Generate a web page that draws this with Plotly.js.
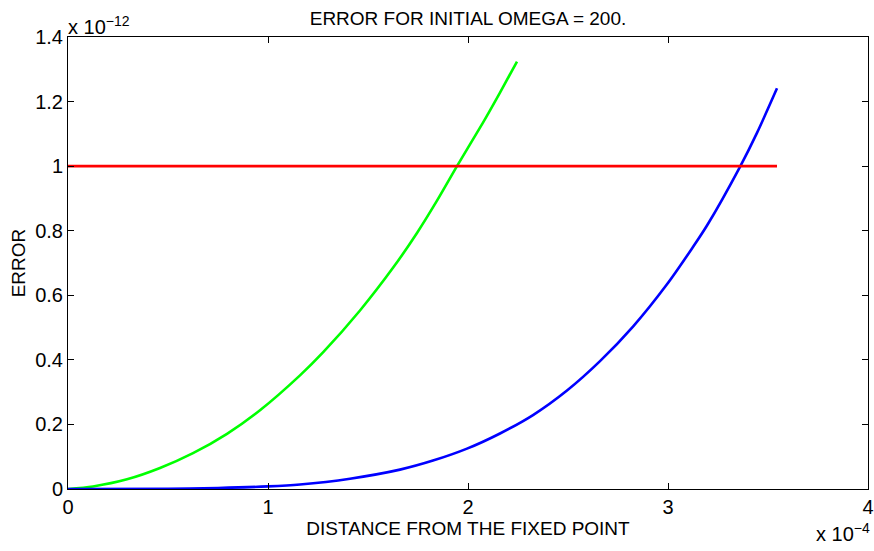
<!DOCTYPE html>
<html>
<head>
<meta charset="utf-8">
<script src="https://cdn.plot.ly/plotly-3.0.1.min.js"></script>
<style>html,body{margin:0;padding:0;background:#fff}#chart{width:874px;height:551px}</style>
</head>
<body>
<div id="chart"></div>
<script>
// distance in units of 1e-4, error in units of 1e-12
const distGreen = [0, 0.125, 0.295, 0.46, 0.625, 0.795, 0.96, 1.16, 1.275, 1.46, 1.625, 1.745, 1.845, 1.945, 2.075, 2.16, 2.245];
const errGreen  = [0, 0.008, 0.03, 0.065, 0.111, 0.171, 0.244, 0.352, 0.423, 0.553, 0.685, 0.793, 0.893, 1.0, 1.135, 1.228, 1.324];

const distBlue = [0, 0.5, 0.75, 1.0, 1.16, 1.41, 1.66, 1.825, 1.995, 2.16, 2.325, 2.495, 2.66, 2.825, 2.995, 3.12, 3.195, 3.36, 3.445, 3.545];
const errBlue  = [0, 0.001, 0.003, 0.008, 0.014, 0.032, 0.06, 0.088, 0.125, 0.172, 0.229, 0.305, 0.396, 0.503, 0.634, 0.745, 0.816, 0.998, 1.103, 1.241];

const distRed = [0, 3.545];
const errRed  = [1, 1];

const xTicks = [0, 1, 2, 3, 4];
const yTicks = [0, 0.2, 0.4, 0.6, 0.8, 1, 1.2, 1.4];

const FONT = 'Liberation Sans, Arial, Helvetica, sans-serif';

const traces = [
  {x: distGreen, y: errGreen, mode: 'lines', line: {color: '#00ff00', width: 2.6, shape: 'spline', smoothing: 0.8}, hoverinfo: 'skip'},
  {x: distBlue, y: errBlue, mode: 'lines', line: {color: '#0000ff', width: 2.6, shape: 'spline', smoothing: 0.8}, hoverinfo: 'skip'},
  {x: distRed, y: errRed, mode: 'lines', line: {color: '#ff0000', width: 2.6}, hoverinfo: 'skip'}
];

const axisCommon = {
  showline: true, mirror: 'ticks', linecolor: '#000', linewidth: 1,
  ticks: 'inside', ticklen: 6, tickcolor: '#000', tickwidth: 1,
  showgrid: false, zeroline: false, fixedrange: true,
  tickfont: {family: FONT, size: 20, color: '#000'}
};

const layout = {
  width: 874, height: 551,
  margin: {l: 68, r: 6, t: 37, b: 62},
  paper_bgcolor: '#fff', plot_bgcolor: '#fff',
  showlegend: false,
  font: {family: FONT, color: '#000'},
  title: {text: 'ERROR FOR INITIAL OMEGA = 200.', font: {family: FONT, size: 19, color: '#000'},
          x: 0.5, xref: 'paper', y: 0.967, yref: 'container', yanchor: 'middle'},
  xaxis: Object.assign({}, axisCommon, {
    range: [0, 4], tickvals: xTicks, ticktext: xTicks.map(String),
    title: {text: 'DISTANCE FROM THE FIXED POINT', font: {family: FONT, size: 19, color: '#000'}, standoff: 0}
  }),
  yaxis: Object.assign({}, axisCommon, {
    range: [0, 1.4], tickvals: yTicks, ticktext: yTicks.map(String),
    title: {text: 'ERROR', font: {family: FONT, size: 19, color: '#000'}, standoff: 4}
  }),
  annotations: [
    {text: 'x 10<sup>\u221212</sup>', xref: 'paper', yref: 'paper', x: 0, y: 1, xanchor: 'left', yanchor: 'bottom',
     showarrow: false, font: {family: FONT, size: 20, color: '#000'}, yshift: -3, xshift: -2},
    {text: 'x 10<sup>\u22124</sup>', xref: 'paper', yref: 'paper', x: 1, y: 0, xanchor: 'right', yanchor: 'top',
     showarrow: false, font: {family: FONT, size: 20, color: '#000'}, yshift: -29, xshift: 4}
  ]
};

Plotly.newPlot('chart', traces, layout, {staticPlot: true, displayModeBar: false});
</script>
</body>
</html>
